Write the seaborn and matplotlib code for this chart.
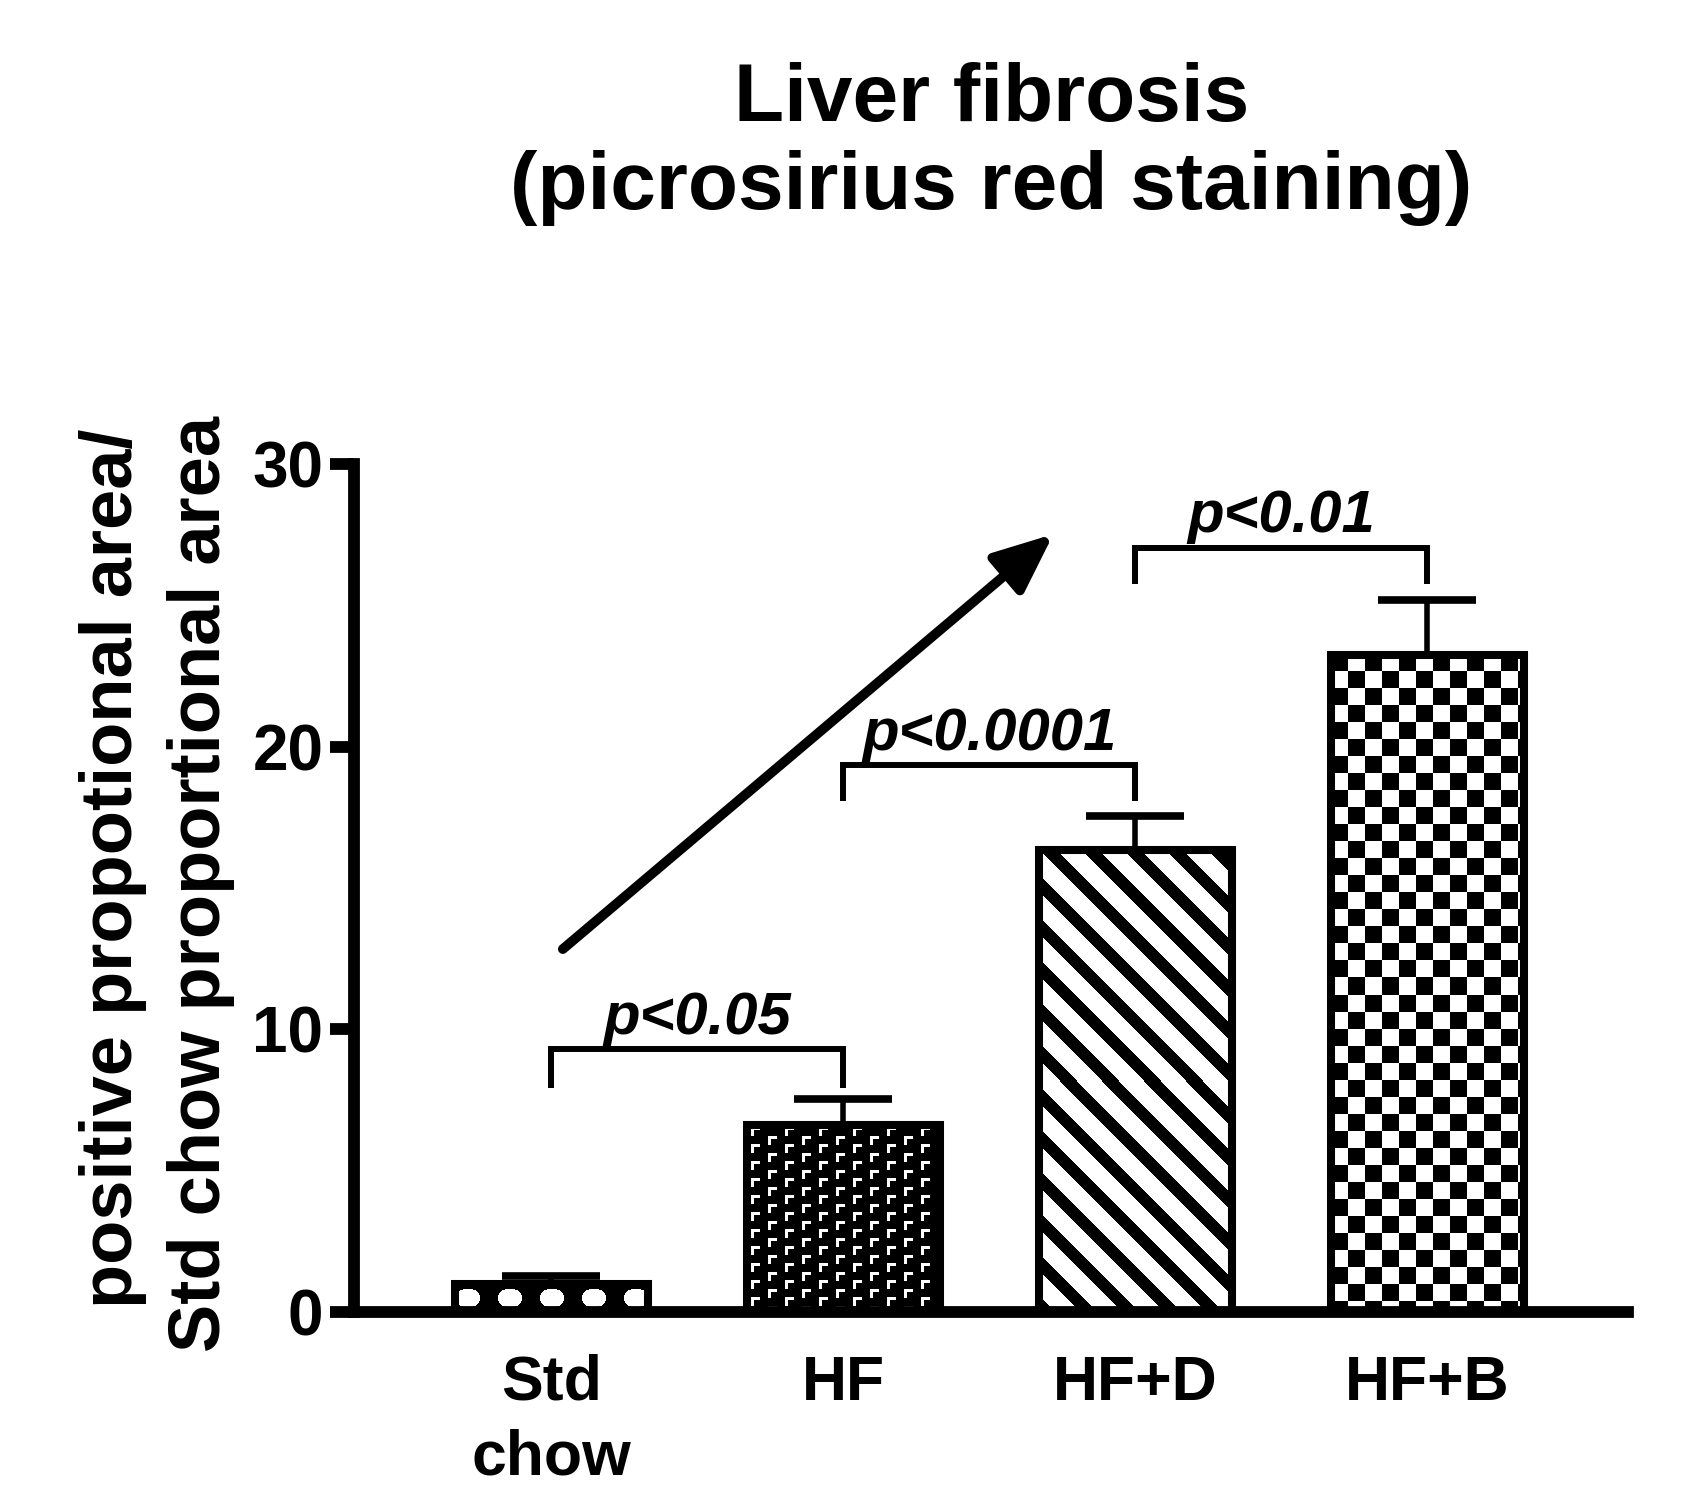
import numpy as np
import pandas as pd
import matplotlib
matplotlib.use("Agg")
import matplotlib.pyplot as plt
import seaborn as sns

# ---------------- data ----------------
categories = ["Std\nchow", "HF", "HF+D", "HF+B"]
means = [1.0, 6.6, 16.35, 23.25]
sems = [0.28, 0.92, 1.2, 1.95]
y_ticks = [0, 10, 20, 30]
comparisons = [(0, 1), (1, 2), (2, 3)]
p_labels = ["p<0.05", "p<0.0001", "p<0.01"]
bracket_top = [9.3, 19.35, 27.03]
bracket_leg_end = [7.92, 18.08, 25.75]
arrow_start = (0.04, 12.84)
arrow_end = (1.72, 27.52)
title_lines = ["Liver fibrosis", "(picrosirius red staining)"]
ylabel_lines = ["positive propotional area/", "Std chow proportional area"]

# ---------------- style ----------------
sns.set_theme(style="white")
plt.rcParams["font.family"] = ["Liberation Sans", "DejaVu Sans"]
plt.rcParams["font.weight"] = "bold"
for key in ["text.color", "axes.labelcolor", "xtick.color", "ytick.color"]:
    plt.rcParams[key] = "black"

fig = plt.figure(figsize=(17.03, 15.11), dpi=100)
ax = fig.add_axes([0.2079, 0.1317, 0.956 - 0.2079, 0.6929 - 0.1317])

df = pd.DataFrame({"group": categories, "value": means})
sns.barplot(data=df, x="group", y="value", order=categories, width=0.66,
            errorbar=None, color="white", edgecolor="black", linewidth=5.8,
            ax=ax)
ax.set_xlabel("")
ax.set_ylabel("")
ax.set_xlim(-0.675, 3.688)
ax.set_ylim(0, 30)

# ---------------- fill textures (clipped to each bar) ----------------
def texture(kind, H, W):
    r, c = np.mgrid[0:H, 0:W]
    if kind == 0:  # black with white ellipses
        cx, cy = W / 2.0, H / 2.0
        dx = ((c - cx + 21) % 42) - 21
        dy = r - cy
        white = (dx / 12.0) ** 2 + (dy / 9.0) ** 2 <= 1
        return white.astype(float)
    if kind == 1:  # dark with small white corner marks, staggered columns
        k = c // 17
        cc = c % 17
        rr = (r + 8 * (k % 2)) % 17
        white = (((rr >= 2) & (rr < 5) & (cc >= 4) & (cc < 13)) |
                 ((cc >= 4) & (cc < 7) & (rr >= 2) & (rr < 11)))
        return white.astype(float)
    if kind == 2:  # diagonal stripes "\"
        black = ((c - r) % 42) < 17
        return 1.0 - black.astype(float)
    # checkerboard
    black = ((r // 17 + c // 17) % 2) == 0
    return 1.0 - black.astype(float)

bars = list(ax.patches)
for i, patch in enumerate(bars):
    patch.set_facecolor("none")
    patch.set_zorder(2)
    x0, y0 = patch.get_x(), patch.get_y()
    w, h = patch.get_width(), patch.get_height()
    p0 = ax.transData.transform((x0, y0))
    p1 = ax.transData.transform((x0 + w, y0 + h))
    W = max(int(round(p1[0] - p0[0])), 1)
    H = max(int(round(p1[1] - p0[1])), 1)
    arr = texture(i, H, W)
    im = ax.imshow(arr, cmap="gray", vmin=0, vmax=1,
                   extent=(x0, x0 + w, y0, y0 + h), origin="upper",
                   interpolation="nearest", aspect="auto", zorder=1)
    im.set_clip_path(patch)

ax.set_xlim(-0.675, 3.688)
ax.set_ylim(0, 30)

# ---------------- error bars (upper only) ----------------
ax.errorbar(x=np.arange(len(means)), y=means,
            yerr=[np.zeros(len(sems)), sems], fmt="none", ecolor="black",
            elinewidth=4, capsize=35, capthick=5.5, zorder=3)

# ---------------- axes styling ----------------
for s in ["top", "right"]:
    ax.spines[s].set_visible(False)
for s in ["left", "bottom"]:
    ax.spines[s].set_linewidth(8.5)
    ax.spines[s].set_color("black")
ax.set_yticks(y_ticks)
ax.tick_params(axis="y", direction="out", length=17, width=8.5, color="black",
               labelsize=46, pad=5, left=True)
ax.tick_params(axis="x", length=0, labelsize=45, pad=30)
for lab in ax.get_xticklabels() + ax.get_yticklabels():
    lab.set_fontweight("bold")
    lab.set_color("black")
for lab in ax.get_xticklabels():
    lab.set_linespacing(1.34)

# ---------------- significance brackets ----------------
for (a, b), lab, top, leg in zip(comparisons, p_labels, bracket_top, bracket_leg_end):
    ax.plot([a, a, b, b], [leg, top, top, leg], color="black", lw=4.3,
            solid_joinstyle="miter", solid_capstyle="butt", clip_on=False,
            zorder=4)
    ax.text((a + b) / 2.0, top + 0.55, lab, ha="center", va="baseline",
            fontsize=43, fontstyle="italic", fontweight="bold", color="black")

# ---------------- trend arrow ----------------
ax.annotate("", xy=arrow_end, xytext=arrow_start,
            arrowprops=dict(arrowstyle="-|>,head_length=0.65,head_width=0.28",
                            lw=7, color="black", shrinkA=0, shrinkB=0,
                            mutation_scale=55),
            annotation_clip=False)

# ---------------- title and y label ----------------
fig.text(0.582, 0.9196, title_lines[0], ha="center", va="baseline",
         fontsize=59, fontweight="bold", color="black")
fig.text(0.582, 0.8617, title_lines[1], ha="center", va="baseline",
         fontsize=59, fontweight="bold", color="black")
fig.text(0.0775, 0.4256, ylabel_lines[0], rotation=90, rotation_mode="anchor",
         ha="center", va="baseline", fontsize=52, fontweight="bold", color="black")
fig.text(0.1292, 0.415, ylabel_lines[1], rotation=90, rotation_mode="anchor",
         ha="center", va="baseline", fontsize=52, fontweight="bold", color="black")

fig.savefig("out.png", dpi=100, facecolor="white")
